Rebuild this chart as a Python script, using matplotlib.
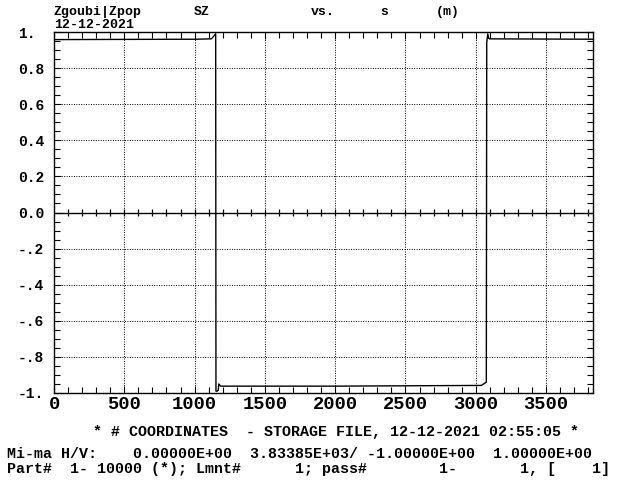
import numpy as np
import matplotlib
matplotlib.use("Agg")
import matplotlib.pyplot as plt
from matplotlib.ticker import MultipleLocator

# SZ spin component along the ring (one particle, one pass)
s_m = [0, 1000, 1120, 1150, 1152, 1160, 1168, 1172, 1185, 2000, 3040, 3065, 3075, 3078, 3085, 3092, 3100, 3833.85]
sz = [0.958, 0.96, 0.962, 0.99, -0.99, -0.99, -0.985, -0.95, -0.962, -0.962, -0.958, -0.945, -0.94, 0.94, 0.99, 0.965, 0.962, 0.96]

x_ticks = [0, 500, 1000, 1500, 2000, 2500, 3000, 3500]
y_ticks = [1.0, 0.8, 0.6, 0.4, 0.2, 0.0, -0.2, -0.4, -0.6, -0.8, -1.0]
y_labels = ["1.", "0.8", "0.6", "0.4", "0.2", "0.0", "-.2", "-.4", "-.6", "-.8", "-1."]

xmin, xmax = 0.0, 3833.85
ymin, ymax = -1.0, 1.0

mono = "Liberation Mono"

fig = plt.figure(figsize=(6.24, 4.83), dpi=100)
W, H = 624, 483
ax = fig.add_axes([54 / W, 1 - 393 / H, 539 / W, 361 / H])
ax.set_xlim(xmin, xmax)
ax.set_ylim(ymin, ymax)

# dotted grid
for x in x_ticks[1:]:
    ax.axvline(x, color="black", lw=0.7, ls=(0, (1, 1.5)), zorder=1)
for y in y_ticks[1:-1]:
    if y != 0.0:
        ax.axhline(y, color="black", lw=0.7, ls=(0, (1, 1.5)), zorder=1)

# solid zero axis with crossing ticks
ax.axhline(0.0, color="black", lw=1.0, zorder=2)
ax.vlines(np.arange(100, xmax, 100), -0.022, 0.022, color="black", lw=0.9, zorder=2)

ax.plot(s_m, sz, color="black", lw=1.0, zorder=3)

ax.set_xticks(x_ticks)
ax.set_yticks(y_ticks)
ax.set_xticklabels([str(v) for v in x_ticks], fontfamily=mono, fontweight="bold", fontsize=13.5)
ax.set_yticklabels(y_labels, fontfamily=mono, fontweight="bold", fontsize=10.5, ha="left")
ax.xaxis.set_minor_locator(MultipleLocator(100))
ax.yaxis.set_minor_locator(MultipleLocator(0.05))
ax.tick_params(which="both", direction="in", top=True, right=True, width=0.8)
ax.tick_params(which="major", length=5)
ax.tick_params(which="minor", length=4)
ax.tick_params(axis="x", pad=2)
ax.tick_params(axis="y", pad=26)
for sp in ax.spines.values():
    sp.set_linewidth(1.0)

# header
hdr = dict(fontfamily=mono, fontweight="bold", fontsize=9.5, va="baseline")
fig.text(54 / W, 1 - 15 / H, "Zgoubi|Zpop", **hdr)
fig.text(54 / W, 1 - 28 / H, "12-12-2021", **hdr)
fig.text(194 / W, 1 - 15 / H, "SZ", **hdr)
fig.text(311 / W, 1 - 15 / H, "vs.", **hdr)
fig.text(380 / W, 1 - 15 / H, "s", **hdr)
fig.text(436 / W, 1 - 15 / H, "(m)", **hdr)

# footer
ftr = dict(fontfamily=mono, fontweight="bold", fontsize=10.8, va="baseline")
fig.text(93 / W, 1 - 436 / H, "* # COORDINATES  - STORAGE FILE, 12-12-2021 02:55:05 *", **ftr)
fig.text(7 / W, 1 - 458 / H, "Mi-ma H/V:    0.00000E+00  3.83385E+03/ -1.00000E+00  1.00000E+00", **ftr)
fig.text(7 / W, 1 - 473 / H, "Part#  1- 10000 (*); Lmnt#      1; pass#        1-       1, [    1]", **ftr)

fig.savefig("out.png", dpi=100)
